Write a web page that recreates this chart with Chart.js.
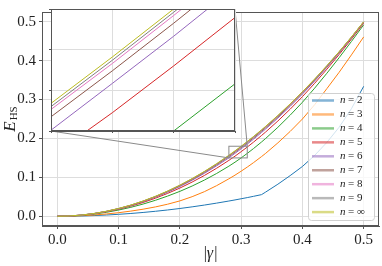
<!DOCTYPE html>
<html><head><meta charset="utf-8">
<script src="https://cdn.jsdelivr.net/npm/chart.js@4.4.1/dist/chart.umd.min.js"></script>
<style>
html,body{margin:0;padding:0;background:#fff;}
#wrap{position:relative;width:382px;height:266px;overflow:hidden;}
#main{position:absolute;left:0;top:0;}
#inset{position:absolute;left:47px;top:8px;}
</style></head><body>
<div id="wrap"><canvas id="main" width="382" height="266"></canvas><canvas id="inset" width="190" height="127"></canvas></div>
<script>
// ---- data ----
const gammaValues = [0, 0.02, 0.04, 0.06, 0.08, 0.10, 0.12, 0.14, 0.16, 0.18, 0.20, 0.22, 0.24, 0.26, 0.28, 0.29, 0.30, 0.31, 0.32, 0.3333, 0.34, 0.36, 0.38, 0.40, 0.42, 0.44, 0.46, 0.48, 0.50];
const E_n2 = [0, .0002, .0008, .0018, .0032, .005, .0072, .0098, .0128, .0162, .02, .0242, .0288, .0338, .0392, .042, .045, .048, .0512, .0556, .0622, .0825, .1045, .128, .1565, .19, .229, .2765, .334];
const E_n3 = [0, .0004, .0015, .0033, .0059, .0092, .0133, .0182, .024, .031, .0395, .0503, .0632, .0787, .0963, .1057, .1158, .1264, .1376, .1534, .1617, .1887, .218, .25, .2868, .3282, .3702, .4148, .461];
const E_n4 = [0, .0006, .0026, .0058, .0102, .016, .023, .0314, .041, .0519, .064, .0777, .093, .11, .1288, .139, .15, .1616, .1738, .1909, .2, .2287, .2598, .293, .3293, .3677, .4077, .4493, .492];
const E_n5 = [0, .0007, .0029, .0065, .0116, .0181, .0261, .0355, .0464, .0588, .0725, .0879, .1048, .1234, .1437, .1545, .166, .1779, .1903, .2076, .2166, .2449, .2752, .3074, .3418, .3781, .4159, .4554, .4963];
const E_n6 = [0, .0008, .0031, .0069, .0122, .0191, .0275, .0375, .0489, .0619, .0764, .0926, .1103, .1296, .1502, .1617, .1733, .1854, .1979, .2153, .2243, .2524, .2824, .314, .3476, .3829, .4198, .4582, .4982];
const E_n7 = [0, .0008, .0031, .007, .0125, .0195, .0281, .0383, .05, .0633, .0781, .0946, .1126, .1323, .1535, .1648, .1765, .1886, .2012, .2185, .2275, .2556, .2854, .3168, .3501, .3849, .4214, .4595, .4991];
const E_n8 = [0, .0008, .0032, .0071, .0127, .0198, .0285, .0388, .0507, .0641, .0791, .0958, .114, .1338, .1553, .1666, .1784, .1905, .2031, .2205, .2295, .2576, .2872, .3185, .3515, .3861, .4224, .4602, .4996];
const E_n9 = [0, .0008, .0032, .0072, .0127, .0199, .0286, .039, .0509, .0645, .0796, .0963, .1146, .1345, .156, .1674, .1792, .1914, .204, .2214, .2304, .2584, .288, .3193, .3522, .3867, .4228, .4605, .4998];
const E_nInf = [0, .0008, .0032, .0072, .0128, .02, .0288, .0392, .0512, .0648, .08, .0968, .1152, .1352, .1568, .1682, .18, .1922, .2048, .2222, .2312, .2592, .2888, .32, .3528, .3872, .4232, .4608, .5];
const seriesLabels = ['2', '3', '4', '5', '6', '7', '8', '9', '\u221E'];
const xTickValues = [0.0, 0.1, 0.2, 0.3, 0.4, 0.5];
const yTickValues = [0.0, 0.1, 0.2, 0.3, 0.4, 0.5];
const insetXTicks = [0.28, 0.29, 0.30, 0.31];
const insetYTicks = [0.15, 0.16, 0.17, 0.18];
const mainXRange = [-0.025, 0.525];
const mainYRange = [-0.025, 0.525];
const insetXRange = [0.28, 0.31];
const insetYRange = [0.15, 0.18];

const seriesValues = [E_n2, E_n3, E_n4, E_n5, E_n6, E_n7, E_n8, E_n9, E_nInf];
const seriesColors = ['#1f77b4', '#ff7f0e', '#2ca02c', '#d62728', '#9467bd', '#8c564b', '#e377c2', '#7f7f7f', '#bcbd22'];

// ---- styling ----
const FONT = 'Liberation Serif';
const gridColor = '#dddddd';
const frameColor = '#555555';
const insetOffset = {left: 47, top: 8};

Chart.defaults.font.family = FONT;

function hexToRgba(h, a) {
  const r = parseInt(h.slice(1, 3), 16), g = parseInt(h.slice(3, 5), 16), b = parseInt(h.slice(5, 7), 16);
  return `rgba(${r},${g},${b},${a})`;
}

function makeDatasets(lw) {
  return seriesValues.map((vals, i) => ({
    label: 'n = ' + seriesLabels[i],
    data: gammaValues.map((g, j) => ({x: g, y: vals[j]})),
    borderColor: seriesColors[i],
    backgroundColor: seriesColors[i],
    borderWidth: lw,
    pointRadius: 0,
    fill: false,
    tension: 0,
    clip: 0,
    order: seriesValues.length - 1 - i
  }));
}

const framePlugin = {
  id: 'frame',
  beforeDatasetsDraw(chart, args, opts) {
    if (opts.fillWhite) {
      const a = chart.chartArea, ctx = chart.ctx;
      ctx.save(); ctx.fillStyle = '#fff';
      ctx.fillRect(a.left, a.top, a.right - a.left, a.bottom - a.top);
      ctx.restore();
    }
  },
  afterDatasetsDraw(chart) {
    const a = chart.chartArea, ctx = chart.ctx;
    ctx.save();
    ctx.strokeStyle = frameColor; ctx.lineWidth = 1;
    const l = Math.round(a.left) + 0.5, t = Math.round(a.top) + 0.5;
    const r = Math.round(a.right) - 0.5, b = Math.round(a.bottom) - 0.5;
    ctx.strokeRect(l, t, r - l, b - t);
    ctx.restore();
  }
};

// inset white background drawn before grid
const insetBgPlugin = {
  id: 'insetBg',
  beforeDraw(chart) {
    const a = chart.chartArea, ctx = chart.ctx;
    ctx.save(); ctx.fillStyle = '#fff';
    ctx.fillRect(a.left, a.top, a.right - a.left, a.bottom - a.top);
    ctx.restore();
  }
};

const insetChart = new Chart(document.getElementById('inset'), {
  type: 'line',
  data: {datasets: makeDatasets(1)},
  options: {
    responsive: false, animation: false, devicePixelRatio: 1,
    layout: {padding: {top: 1, right: 2, left: 0, bottom: 0}},
    plugins: {legend: {display: false}, tooltip: {enabled: false}},
    scales: {
      x: {
        type: 'linear', min: insetXRange[0], max: insetXRange[1],
        afterBuildTicks: s => { s.ticks = insetXTicks.map(v => ({value: v})); },
        afterFit: s => { s.height = 4; },
        ticks: {display: false},
        grid: {color: gridColor, lineWidth: 1, tickLength: 2, tickColor: frameColor, drawTicks: true},
        border: {display: true, color: frameColor, width: 1}
      },
      y: {
        type: 'linear', min: insetYRange[0], max: insetYRange[1],
        afterBuildTicks: s => { s.ticks = insetYTicks.map(v => ({value: v})); },
        afterFit: s => { s.width = 4; },
        ticks: {display: false},
        grid: {color: gridColor, lineWidth: 1, tickLength: 2, tickColor: frameColor, drawTicks: true},
        border: {display: true, color: frameColor, width: 1}
      }
    }
  },
  plugins: [insetBgPlugin, framePlugin]
});

const markInsetPlugin = {
  id: 'markInset',
  afterDatasetsDraw(chart) {
    const ctx = chart.ctx, xs = chart.scales.x, ys = chart.scales.y;
    const rx0 = xs.getPixelForValue(insetXRange[0]), rx1 = xs.getPixelForValue(insetXRange[1]);
    const ry0 = ys.getPixelForValue(insetYRange[0]), ry1 = ys.getPixelForValue(insetYRange[1]);
    const ia = insetChart.chartArea;
    const il = ia.left + insetOffset.left, ir = ia.right + insetOffset.left;
    const it = ia.top + insetOffset.top, ib = ia.bottom + insetOffset.top;
    ctx.save();
    ctx.strokeStyle = '#8a8a8a'; ctx.lineWidth = 1;
    ctx.strokeRect(rx0, ry1, rx1 - rx0, ry0 - ry1);
    ctx.beginPath();
    ctx.moveTo(il, ib); ctx.lineTo(rx0, ry0);
    ctx.moveTo(ir, it); ctx.lineTo(rx1, ry1);
    ctx.stroke();
    ctx.restore();
  }
};

const legendPlugin = {
  id: 'customLegend',
  afterDraw(chart) {
    const ctx = chart.ctx;
    const bx = 308.5, by = 93.5, bw = 66, bh = 127, rad = 3;
    ctx.save();
    ctx.beginPath();
    ctx.moveTo(bx + rad, by);
    ctx.lineTo(bx + bw - rad, by); ctx.quadraticCurveTo(bx + bw, by, bx + bw, by + rad);
    ctx.lineTo(bx + bw, by + bh - rad); ctx.quadraticCurveTo(bx + bw, by + bh, bx + bw - rad, by + bh);
    ctx.lineTo(bx + rad, by + bh); ctx.quadraticCurveTo(bx, by + bh, bx, by + bh - rad);
    ctx.lineTo(bx, by + rad); ctx.quadraticCurveTo(bx, by, bx + rad, by);
    ctx.closePath();
    ctx.fillStyle = 'rgba(255,255,255,0.8)'; ctx.fill();
    ctx.strokeStyle = '#d0d0d0'; ctx.lineWidth = 1; ctx.stroke();
    ctx.textBaseline = 'middle'; ctx.fillStyle = '#222';
    seriesLabels.forEach((lab, i) => {
      const y = 100.5 + i * 13.95;
      ctx.strokeStyle = hexToRgba(seriesColors[i], 0.55); ctx.lineWidth = 2.5;
      ctx.beginPath(); ctx.moveTo(312, y); ctx.lineTo(334, y); ctx.stroke();
      ctx.font = 'italic 11px ' + FONT; ctx.fillText('n', 340, y);
      ctx.font = '11px ' + FONT; ctx.fillText('=', 348, y);
      ctx.fillText(lab, 357, y);
    });
    ctx.restore();
  }
};

const axisTitlePlugin = {
  id: 'axisTitles',
  afterDraw(chart) {
    const ctx = chart.ctx, a = chart.chartArea;
    ctx.save();
    ctx.fillStyle = '#222'; ctx.textBaseline = 'alphabetic';
    // y title: E_HS rotated
    ctx.translate(14.5, (a.top + a.bottom) / 2);
    ctx.rotate(-Math.PI / 2);
    ctx.font = 'italic 17px ' + FONT;
    const wE = ctx.measureText('E').width;
    ctx.font = '11px ' + FONT;
    const wH = ctx.measureText('HS').width;
    const x0 = -(wE + wH + 1) / 2;
    ctx.font = 'italic 17px ' + FONT; ctx.fillText('E', x0, 0);
    ctx.font = '11px ' + FONT; ctx.fillText('HS', x0 + wE + 1, 2.5);
    ctx.restore();
    // x title |γ|
    ctx.save();
    ctx.fillStyle = '#222'; ctx.textBaseline = 'alphabetic';
    const cx = (a.left + a.right) / 2, by = 258;
    ctx.font = '16px ' + FONT; const wb = ctx.measureText('|').width;
    ctx.font = 'italic 16px ' + FONT; const wg = ctx.measureText('\u03B3').width;
    let x = cx - (2 * wb + wg + 1) / 2;
    ctx.font = '16px ' + FONT; ctx.fillText('|', x, by); x += wb;
    ctx.font = 'italic 16px ' + FONT; ctx.fillText('\u03B3', x, by); x += wg + 1;
    ctx.font = '16px ' + FONT; ctx.fillText('|', x, by);
    ctx.restore();
  }
};

new Chart(document.getElementById('main'), {
  type: 'line',
  data: {datasets: makeDatasets(1)},
  options: {
    responsive: false, animation: false, devicePixelRatio: 1,
    layout: {padding: {top: 3, right: 3, left: 0, bottom: 0}},
    plugins: {legend: {display: false}, tooltip: {enabled: false}},
    scales: {
      x: {
        type: 'linear', min: mainXRange[0], max: mainXRange[1],
        afterBuildTicks: s => { s.ticks = xTickValues.map(v => ({value: v})); },
        afterFit: s => { s.height = 40; },
        ticks: {font: {size: 15, family: FONT}, color: '#222', padding: 2, maxRotation: 0, autoSkip: false,
                callback: v => Number(v).toFixed(1)},
        grid: {color: gridColor, lineWidth: 1, tickLength: 3, tickColor: frameColor, drawTicks: true},
        border: {display: true, color: frameColor, width: 1}
      },
      y: {
        type: 'linear', min: mainYRange[0], max: mainYRange[1],
        afterBuildTicks: s => { s.ticks = yTickValues.map(v => ({value: v})); },
        afterFit: s => { s.width = 42; },
        ticks: {font: {size: 15, family: FONT}, color: '#222', padding: 3, autoSkip: false,
                callback: v => Number(v).toFixed(1)},
        grid: {color: gridColor, lineWidth: 1, tickLength: 3, tickColor: frameColor, drawTicks: true},
        border: {display: true, color: frameColor, width: 1}
      }
    }
  },
  plugins: [framePlugin, markInsetPlugin, legendPlugin, axisTitlePlugin]
});
</script>
</body></html>
